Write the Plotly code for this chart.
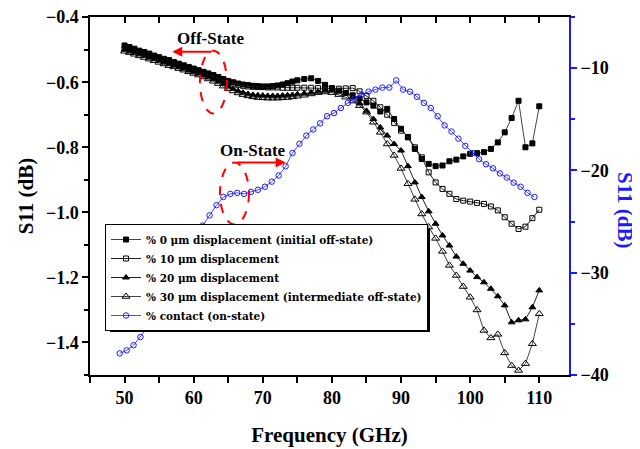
import plotly.graph_objects as go

# ---------------- data ----------------
freq_off = [50.00, 50.71, 51.43, 52.14, 52.86, 53.57, 54.29, 55.00, 55.71, 56.43,
            57.14, 57.86, 58.57, 59.29, 60.00, 60.71, 61.43, 62.14, 62.86, 63.57,
            64.29, 65.00, 65.71, 66.43, 67.14, 67.86, 68.57, 69.29, 70.00, 70.71,
            71.43, 72.14, 72.86, 73.57, 74.29, 75.00,
            76, 77, 78, 79, 80, 81, 82, 83, 84, 85, 86, 87, 88, 89, 90, 91, 92, 93,
            94, 95, 96, 97, 98, 99, 100, 101, 102, 103, 104, 105, 106, 107, 108,
            109, 110]

s11_0um = [-0.487, -0.492, -0.497, -0.503, -0.507, -0.512, -0.518, -0.523, -0.528, -0.532,
           -0.538, -0.543, -0.548, -0.553, -0.558, -0.563, -0.568, -0.573, -0.578, -0.584,
           -0.590, -0.596, -0.600, -0.604, -0.607, -0.609, -0.611, -0.612, -0.613, -0.613,
           -0.612, -0.610, -0.607, -0.603, -0.598, -0.594,
           -0.590, -0.588, -0.596, -0.608, -0.618, -0.626, -0.633, -0.640, -0.650, -0.662,
           -0.672, -0.690, -0.682, -0.713, -0.743, -0.769, -0.805, -0.836, -0.851, -0.858,
           -0.856, -0.843, -0.838, -0.828, -0.820, -0.818, -0.815, -0.805, -0.785, -0.754,
           -0.710, -0.657, -0.800, -0.788, -0.674]

s11_10um = [-0.497, -0.501, -0.506, -0.510, -0.515, -0.520, -0.525, -0.530, -0.534, -0.539,
            -0.544, -0.548, -0.553, -0.558, -0.563, -0.567, -0.572, -0.577, -0.582, -0.588,
            -0.594, -0.600, -0.604, -0.608, -0.611, -0.613, -0.614, -0.615, -0.615, -0.616,
            -0.616, -0.616, -0.617, -0.617, -0.617, -0.617,
            -0.617, -0.617, -0.618, -0.619, -0.620, -0.620, -0.619, -0.618, -0.628, -0.642,
            -0.657, -0.677, -0.700, -0.725, -0.749, -0.769, -0.800, -0.831, -0.877, -0.908,
            -0.928, -0.943, -0.959, -0.964, -0.967, -0.971, -0.974, -0.982, -0.994, -1.015,
            -1.035, -1.051, -1.044, -1.018, -0.992]

s11_20um = [-0.500, -0.505, -0.510, -0.514, -0.519, -0.524, -0.529, -0.534, -0.539, -0.543,
            -0.548, -0.553, -0.558, -0.563, -0.568, -0.573, -0.579, -0.585, -0.591, -0.598,
            -0.606, -0.614, -0.621, -0.627, -0.632, -0.636, -0.639, -0.640, -0.641, -0.642,
            -0.642, -0.642, -0.641, -0.640, -0.639, -0.637,
            -0.635, -0.632, -0.629, -0.626, -0.625, -0.627, -0.633, -0.645, -0.665, -0.688,
            -0.713, -0.739, -0.764, -0.790, -0.810, -0.858, -0.908, -0.953, -0.997, -1.035,
            -1.071, -1.102, -1.136, -1.158, -1.179, -1.199, -1.215, -1.235, -1.258, -1.286,
            -1.338, -1.332, -1.329, -1.292, -1.240]

s11_30um = [-0.505, -0.509, -0.514, -0.519, -0.524, -0.529, -0.534, -0.539, -0.544, -0.549,
            -0.553, -0.558, -0.563, -0.568, -0.573, -0.578, -0.584, -0.590, -0.597, -0.604,
            -0.612, -0.620, -0.627, -0.633, -0.638, -0.642, -0.645, -0.647, -0.648, -0.649,
            -0.649, -0.649, -0.648, -0.647, -0.645, -0.643,
            -0.640, -0.636, -0.632, -0.630, -0.632, -0.638, -0.646, -0.658, -0.672, -0.692,
            -0.723, -0.754, -0.790, -0.825, -0.865, -0.912, -0.960, -1.005, -1.045, -1.080,
            -1.120, -1.163, -1.194, -1.228, -1.261, -1.300, -1.363, -1.386, -1.375, -1.432,
            -1.471, -1.486, -1.465, -1.404, -1.312]

freq_on = [49.3, 50.3, 51.3, 52.3, 53.3, 54.3, 55.3, 56.3, 57.3, 58.3, 59.3, 60.3, 61.3,
           62.3, 63.3, 64.3, 65.3, 66.3, 67.3, 68.3, 69.3, 70.3, 71.3, 72.3, 73.3, 74.3,
           75.3, 76.3, 77.3, 78.3, 79.3, 80.3, 81.3, 82.3, 83.3, 84.3, 85.3, 86.3, 87.3,
           88.3, 89.3, 90.3, 91.3, 92.3, 93.3, 94.3, 95.3, 96.3, 97.3, 98.3, 99.3, 100.3,
           101.3, 102.3, 103.3, 104.3, 105.3, 106.3, 107.3, 108.3, 109.3]

s11_contact = [-37.9, -37.6, -37.1, -36.3, -35.4, -34.2, -32.9, -31.6, -30.3, -29.0, -27.7,
               -26.5, -25.4, -24.4, -23.4, -22.6, -22.3, -22.2, -22.3, -22.1, -21.9, -21.6,
               -21.1, -20.5, -19.6, -18.3, -17.4, -16.6, -16.0, -15.4, -14.7, -14.4, -13.9,
               -13.4, -13.0, -12.6, -12.3, -12.1, -11.9, -11.9, -11.2, -12.1, -12.3, -12.8,
               -13.4, -13.9, -14.7, -15.6, -16.2, -16.9, -17.6, -18.3, -18.9, -19.4, -19.8,
               -20.3, -20.7, -21.2, -21.6, -22.2, -22.6]

legend_names = ["% 0 \u03bcm displacement (initial off-state)",
                "% 10 \u03bcm displacement",
                "% 20 \u03bcm displacement",
                "% 30 \u03bcm displacement (intermediate off-state)",
                "% contact (on-state)"]

# ---------------- figure ----------------
FONT = "Liberation Serif"
BLUE = "#1a1aff"
OFF = 8                      # page body margin of the html page
FW, FH = 640 - OFF, 449 - OFF
# target plot area in window pixels: x 90..569, y 17..375
L = 90 - OFF
T = 17 - OFF
R = FW - (569 - OFF)
B = FH - (375 - OFF)
PW, PH = FW - L - R, FH - T - B


def px_x(px):
    return (px - OFF - L) / PW


def px_y(py):
    return (FH - B - (py - OFF)) / PH


fig = go.Figure()

fig.add_trace(go.Scatter(x=freq_off, y=s11_0um, mode="lines+markers", name=legend_names[0],
                         line=dict(color="#444444", width=1),
                         marker=dict(symbol="square", size=5, color="black",
                                     line=dict(color="black", width=1))))
fig.add_trace(go.Scatter(x=freq_off, y=s11_10um, mode="lines+markers", name=legend_names[1],
                         line=dict(color="#222222", width=1),
                         marker=dict(symbol="square-open", size=5, color="black",
                                     line=dict(color="black", width=1))))
fig.add_trace(go.Scatter(x=freq_off, y=s11_20um, mode="lines+markers", name=legend_names[2],
                         line=dict(color="#222222", width=1),
                         marker=dict(symbol="triangle-up", size=6, color="black",
                                     line=dict(color="black", width=1))))
fig.add_trace(go.Scatter(x=freq_off, y=s11_30um, mode="lines+markers", name=legend_names[3],
                         line=dict(color="#444444", width=1),
                         marker=dict(symbol="triangle-up-open", size=7, color="black",
                                     line=dict(color="black", width=1))))
fig.add_trace(go.Scatter(x=freq_on, y=s11_contact, mode="lines+markers", name=legend_names[4],
                         yaxis="y2",
                         line=dict(color=BLUE, width=0.8),
                         marker=dict(symbol="circle-open", size=5.5, color=BLUE,
                                     line=dict(color=BLUE, width=1))))
# invisible helper trace so that the top (mirror) axis is drawn
fig.add_trace(go.Scatter(x=[freq_off[0]], y=[s11_0um[0]], xaxis="x2", mode="markers",
                         marker=dict(opacity=0), showlegend=False, hoverinfo="skip"))

tick_font = dict(family=FONT, size=18, color="black", weight="bold")
title_font = dict(family=FONT, size=21, color="black", weight="bold")

fig.update_layout(
    width=FW, height=FH,
    margin=dict(l=L, r=R, t=T, b=B, autoexpand=False),
    paper_bgcolor="white", plot_bgcolor="white",
    font=dict(family=FONT, color="black"),
    showlegend=True,
    legend=dict(x=px_x(105), y=px_y(224), xanchor="left", yanchor="top",
                bgcolor="white", bordercolor="black", borderwidth=1,
                font=dict(family="DejaVu Serif", size=10.5, color="black", weight="bold"),
                tracegroupgap=0, itemwidth=30),
    xaxis=dict(range=[45, 114.3], tick0=50, dtick=10, ticks="outside", ticklen=6,
               tickwidth=1.5, tickcolor="black", showline=True, linecolor="black",
               linewidth=1.5, showgrid=False, zeroline=False, tickfont=tick_font,
               automargin=False,
               minor=dict(dtick=5, tick0=45, ticks="outside", ticklen=6, tickwidth=1.5,
                          tickcolor="black", showgrid=False),
               title=dict(text="Frequency (GHz)", font=title_font, standoff=20)),
    xaxis2=dict(overlaying="x", matches="x", side="top", anchor="y", range=[45, 114.3],
                tick0=50, dtick=10, ticks="inside", ticklen=6, tickwidth=1.5,
                tickcolor="black", showline=True, linecolor="black", linewidth=1.5,
                showticklabels=False, showgrid=False, zeroline=False, automargin=False,
                minor=dict(dtick=5, tick0=45, ticks="inside", ticklen=6, tickwidth=1.5,
                           tickcolor="black", showgrid=False)),
    yaxis=dict(range=[-1.5, -0.3995], tick0=-0.4, dtick=0.2, tickformat=".1f",
               ticks="outside", ticklen=6, tickwidth=1.5, tickcolor="black",
               showline=True, linecolor="black", linewidth=1.5, showgrid=False,
               zeroline=False, tickfont=tick_font, automargin=False,
               ticklabeloverflow="allow",
               minor=dict(dtick=0.1, ticks="outside", ticklen=4, tickwidth=1.5,
                          tickcolor="black", showgrid=False),
               title=dict(text="S11 (dB)", font=title_font, standoff=7)),
    yaxis2=dict(overlaying="y", side="right", anchor="x", range=[-40.01, -5],
                tick0=-40, dtick=10, ticks="outside", ticklen=6, tickwidth=1.5,
                tickcolor=BLUE, showline=True, linecolor=BLUE, linewidth=2,
                showgrid=False, zeroline=False, tickfont=tick_font, automargin=False,
                ticklabeloverflow="allow",
                minor=dict(dtick=5, ticks="outside", ticklen=4, tickwidth=1.5,
                           tickcolor=BLUE, showgrid=False)),
)

# right axis title (reads top-to-bottom, blue)
fig.add_annotation(xref="paper", yref="paper", x=px_x(625), y=px_y(210),
                   xanchor="center", yanchor="middle",
                   text="S11 (dB)", textangle=90, showarrow=False,
                   font=dict(family=FONT, size=21, color=BLUE, weight="bold"))

# state labels
fig.add_annotation(x=62.5, y=-0.466, xref="x", yref="y", text="Off-State", showarrow=False,
                   font=dict(family=FONT, size=17, color="black", weight="bold"))
fig.add_annotation(x=68.55, y=-0.810, xref="x", yref="y", text="On-State", showarrow=False,
                   font=dict(family=FONT, size=17, color="black", weight="bold"))

# red arrows
fig.add_annotation(x=56.9, y=-0.506, ax=62.8, ay=-0.506, xref="x", yref="y",
                   axref="x", ayref="y", text="", showarrow=True, arrowhead=2,
                   arrowsize=1, arrowwidth=2, arrowcolor="red")
fig.add_annotation(x=73.3, y=-0.847, ax=66.0, ay=-0.847, xref="x", yref="y",
                   axref="x", ayref="y", text="", showarrow=True, arrowhead=2,
                   arrowsize=1, arrowwidth=2, arrowcolor="red")

# red dashed ellipses
fig.add_shape(type="circle", xref="x", yref="y", x0=60.9, x1=64.8, y0=-0.696, y1=-0.503,
              line=dict(color="red", width=2, dash="dash"), layer="above")
fig.add_shape(type="circle", xref="x", yref="y", x0=63.8, x1=68.0, y0=-1.037, y1=-0.847,
              line=dict(color="red", width=2, dash="dash"), layer="above")

# legend drop shadow (offset ~5 px right and down from the legend box)
fig.add_shape(type="rect", xref="paper", yref="paper",
              x0=px_x(110), x1=px_x(430), y0=px_y(332), y1=px_y(229),
              fillcolor="black", line=dict(width=0), layer="above")

fig.write_html("out.html")
